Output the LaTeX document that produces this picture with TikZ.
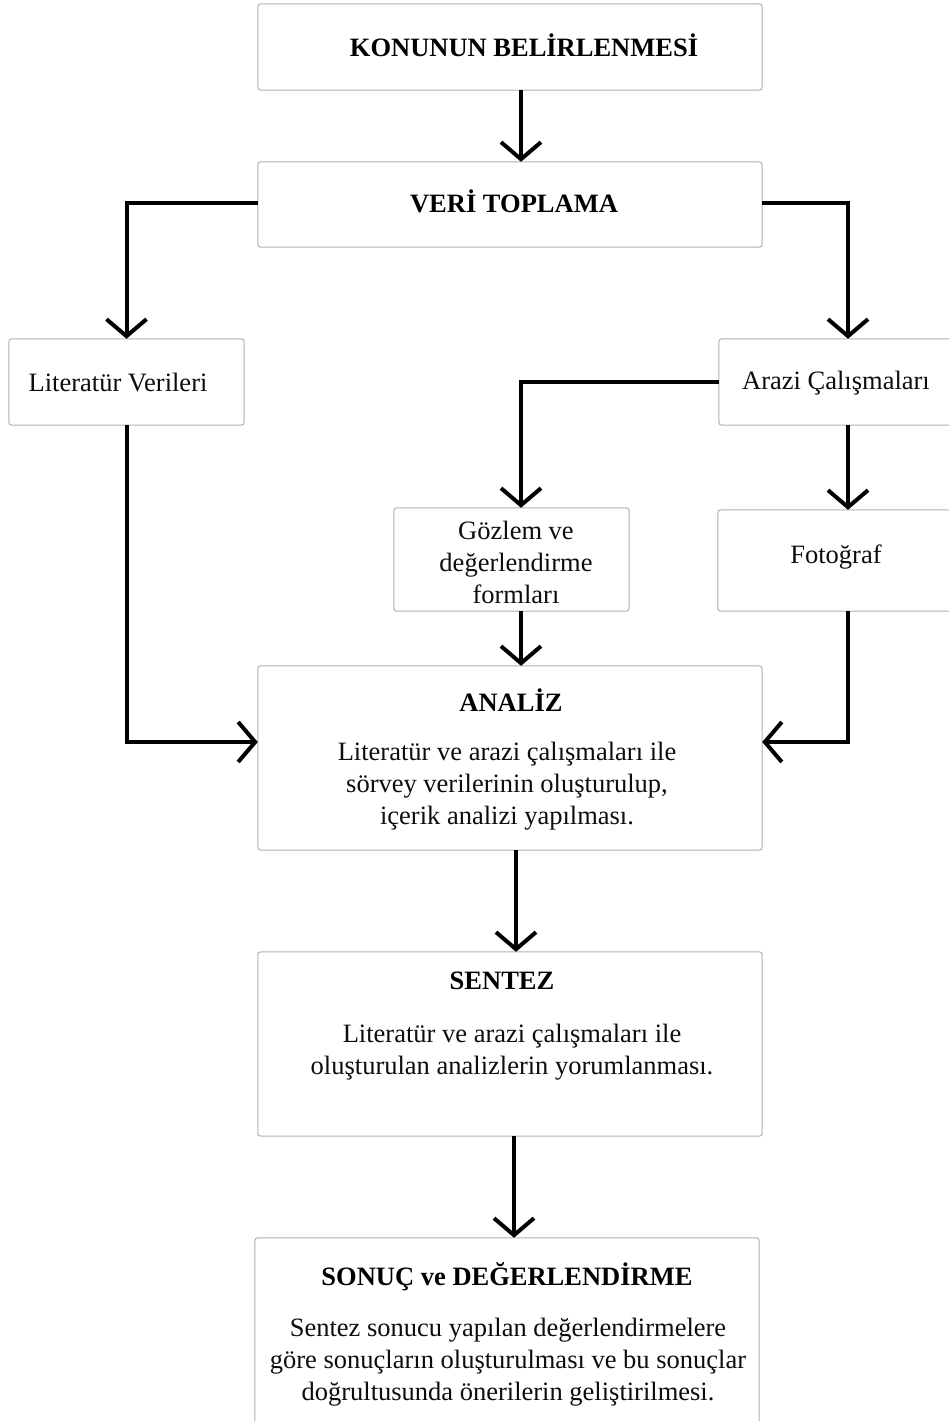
\documentclass[tikz,border=0pt]{standalone}
\usepackage{fontspec}
\setmainfont{Liberation Serif}
\usetikzlibrary{arrows.meta}
\begin{document}
\begin{tikzpicture}[x=1pt,y=-1pt,
  box/.style={draw=black!30,line width=1pt,rounded corners=3pt,fill=white},
  txt/.style={inner sep=0pt,text=black!95,font=\fontsize{26.5}{32}\selectfont,align=center},
  ttl/.style={inner sep=0pt,text=black,font=\fontsize{26.5}{32}\selectfont\bfseries,align=center},
  arr/.style={line width=4pt,-{Straight Barb[length=17pt,width=40pt,line width=4pt]}}]
\useasboundingbox (0,0) rectangle (949,1421);
\clip (0,0) rectangle (949,1421);
% boxes
\node[inner sep=0,minimum width=504,minimum height=86] (k) at (510,47) {};
\node[inner sep=0,minimum width=504,minimum height=85] (v) at (510,204.5) {};
\node[inner sep=0,minimum width=235,minimum height=86] (lit) at (126.5,382) {};
\node[inner sep=0,minimum width=258,minimum height=86] (ara) at (848,382) {};
\node[inner sep=0,minimum width=235,minimum height=103] (goz) at (511.5,559.5) {};
\node[inner sep=0,minimum width=260,minimum height=101] (foto) at (848,560.5) {};
\node[inner sep=0,minimum width=504,minimum height=184] (ana) at (510,758) {};
\node[inner sep=0,minimum width=504,minimum height=184] (sen) at (510,1044) {};
\node[inner sep=0,minimum width=504,minimum height=200] (son) at (507,1338) {};
\foreach \n in {k,v,lit,ara,goz,foto,ana,sen,son}
  \draw[box] (\n.south west) rectangle (\n.north east);
% texts
\node[ttl] (t1) at (524,45) {KONUNUN BELİRLENMESİ};
\node[ttl] (t2) at (514,201) {VERİ TOPLAMA};
\node[txt] (t3) at (118,383) {Literatür Verileri};
\node[txt] (t4) at (836,383) {Arazi Çalışmaları};
\node[txt] (t5) at (516,562) {Gözlem ve\\değerlendirme\\formları};
\node[txt] (t6) at (836,557) {Fotoğraf};
\node[ttl] (t7) at (511,700) {ANALİZ};
\node[txt] (t8) at (507,786) {Literatür ve arazi çalışmaları ile\\ sörvey verilerinin oluşturulup,\\içerik analizi yapılması.};
\node[ttl] (t9) at (502,981) {SENTEZ};
\node[txt] (t10) at (512,1052) {Literatür ve arazi çalışmaları ile\\oluşturulan analizlerin yorumlanması.};
\node[ttl] (t11) at (507,1277) {SONUÇ ve DEĞERLENDİRME};
\node[txt] (t12) at (508,1362) {Sentez sonucu yapılan değerlendirmelere\\göre sonuçların oluşturulması ve bu sonuçlar\\doğrultusunda önerilerin geliştirilmesi.};
% connectors
\draw[arr] ([xshift=11pt]k.south) -- ([xshift=11pt]v.north);
\draw[arr] ([yshift=2pt]v.west) -| (lit.north);
\draw[arr] ([yshift=2pt]v.east) -| (ara.north);
\draw[arr] (ara.west) -| ([xshift=9.5pt]goz.north);
\draw[arr] (ara.south) -- (foto.north);
\draw[arr] ([xshift=9.5pt]goz.south) -- ([xshift=11pt]ana.north);
\draw[arr] (lit.south) |- ([yshift=16pt]ana.west);
\draw[arr] (foto.south) |- ([yshift=16pt]ana.east);
\draw[arr] ([xshift=6pt]ana.south) -- ([xshift=6pt]sen.north);
\draw[arr] ([xshift=4pt]sen.south) -- ([xshift=7pt]son.north);
\end{tikzpicture}
\end{document}
